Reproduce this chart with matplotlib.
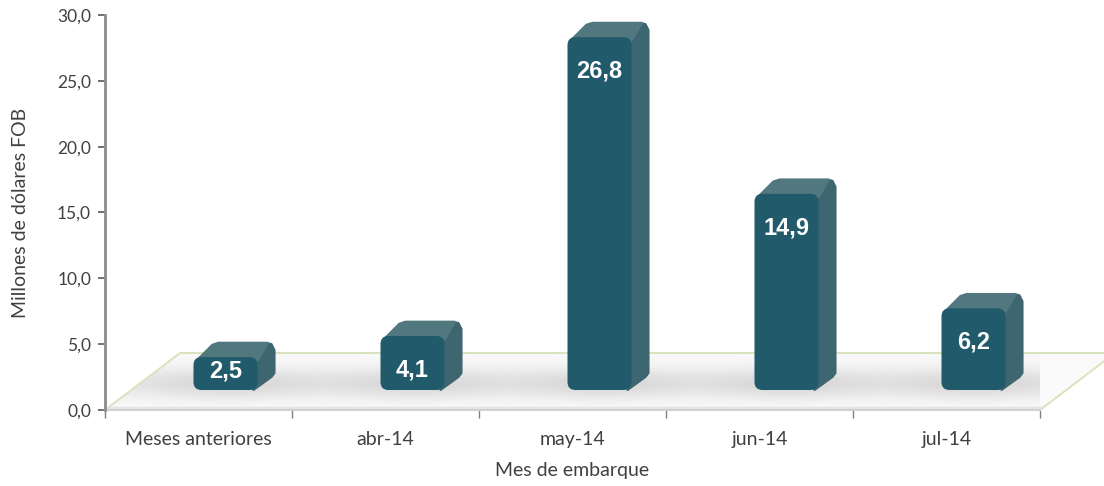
import numpy as np
import matplotlib
matplotlib.use("Agg")
import matplotlib.pyplot as plt
from matplotlib.patches import Polygon, FancyBboxPatch

categories = ["Meses anteriores", "abr-14", "may-14", "jun-14", "jul-14"]
values = [2.5, 4.1, 26.8, 14.9, 6.2]
value_labels = ["2,5", "4,1", "26,8", "14,9", "6,2"]
y_ticks = [0, 5, 10, 15, 20, 25, 30]
y_tick_labels = ["0,0", "5,0", "10,0", "15,0", "20,0", "25,0", "30,0"]

W, H = 1104, 486
fig = plt.figure(figsize=(W / 100, H / 100), dpi=100)
ax_l, ax_r, ax_b, ax_t = 105, 1040, 410, 15
ax = fig.add_axes([ax_l / W, 1 - ax_b / H, (ax_r - ax_l) / W, (ax_b - ax_t) / H])
n = len(categories)
ax.set_xlim(-0.5, n - 0.5)
ax.set_ylim(0, 30)

px_x = (ax_r - ax_l) / n      # pixels per category unit
px_y = (ax_b - ax_t) / 30.0   # pixels per y unit

def ux(p):
    return p / px_x

def uy(p):
    return p / px_y

text_font = ["Lato", "DejaVu Sans"]
txt_col = "#404040"

# floor
fdx, fdy = ux(75), uy(57)
floor = [(-0.5, 0), (n - 0.5, 0), (n - 0.5 + fdx, fdy), (-0.5 + fdx, fdy)]
floor_poly = Polygon(floor, closed=True, facecolor="#fafafa", edgecolor="none",
                     zorder=1, clip_on=False)
ax.add_patch(floor_poly)

# shadow gradient on floor
base = uy(20)
gx = np.linspace(-0.5, n - 0.5 + fdx, 600)
gy = np.linspace(0, fdy, 120)
GX, GY = np.meshgrid(gx, gy)
band = np.exp(-((GY - uy(28)) / uy(16)) ** 2)
spots = np.zeros_like(GX)
for i in range(n):
    cx = i + ux(30)
    spots += np.exp(-((GX - cx) / 0.42) ** 2) * np.exp(-((GY - uy(24)) / uy(14)) ** 2)
shade = np.clip(0.13 * band + 0.14 * spots, 0, 0.3)
rgba = np.zeros(GX.shape + (4,))
rgba[..., 0] = 0.48
rgba[..., 1] = 0.45
rgba[..., 2] = 0.45
rgba[..., 3] = shade
im = ax.imshow(rgba, extent=[gx[0], gx[-1], gy[0], gy[-1]], origin="lower",
               aspect="auto", zorder=1.5, interpolation="bilinear")
im.set_clip_path(floor_poly)

# floor edges
ax.plot([-0.5, -0.5 + fdx, n - 0.5 + fdx], [0, fdy, fdy], color="#d7e4bd",
        lw=1.4, zorder=1.6, clip_on=False, solid_capstyle="butt")
ax.plot([n - 0.5, n - 0.5 + fdx], [0, fdy], color="#d7e4bd", lw=1.4,
        zorder=1.6, clip_on=False)
ax.plot([-0.5, n - 0.5], [uy(2), uy(2)], color="#e4e4e4", lw=2.5, zorder=1.7,
        clip_on=False)
ax.plot([-0.5, n - 0.5], [0, 0], color="#d0d0d0", lw=1.4, zorder=1.7,
        clip_on=False)

# bars
front_c = "#215a6a"
side_c = "#3e6671"
top_c = "#51787f"
bw = ux(64)
off = ux(27)
ddx, ddy = ux(17), uy(14)
aspect = (1 / px_y) / (1 / px_x)
for i, (v, lab) in enumerate(zip(values, value_labels)):
    x0 = i + off - bw / 2
    x1 = x0 + bw
    top = base + v
    side = Polygon([(x1 - ux(4), base), (x1 + ddx - ux(3), base + ddy - uy(1)),
                    (x1 + ddx, base + ddy + uy(3)), (x1 + ddx, top + ddy - uy(7)),
                    (x1 + ddx - ux(3), top + ddy - uy(1)),
                    (x1 + ddx - ux(7), top + ddy), (x1 - ux(4), top)],
                   closed=True, facecolor=side_c, edgecolor=side_c, lw=1.5,
                   joinstyle="round", zorder=3)
    ax.add_patch(side)
    topf = Polygon([(x0 + ux(4), top - uy(3)), (x0 + ddx + ux(2), top + ddy - uy(2)),
                    (x0 + ddx + ux(8), top + ddy),
                    (x1 + ddx - ux(7), top + ddy), (x1, top - uy(3))],
                   closed=True, facecolor=top_c, edgecolor=top_c, lw=2,
                   joinstyle="round", zorder=3)
    ax.add_patch(topf)
    front = FancyBboxPatch((x0, base), bw, v,
                           boxstyle="round,pad=0,rounding_size=%f" % ux(8),
                           mutation_aspect=aspect, facecolor=front_c,
                           edgecolor="none", zorder=4)
    ax.add_patch(front)
    ly = max(top - uy(34), 3.0)
    ax.text(i + off, ly, lab, ha="center", va="center", color="white",
            fontsize=17, fontweight="bold",
            family=["Liberation Sans", "DejaVu Sans"], zorder=5)

# axes styling
for s in ["top", "right", "bottom"]:
    ax.spines[s].set_visible(False)
ax.spines["left"].set_color("#8c8c8c")
ax.spines["left"].set_linewidth(2)
ax.spines["left"].set_zorder(6)
ax.set_yticks(y_ticks)
ax.set_yticklabels(y_tick_labels, family=text_font, fontsize=12.5, color=txt_col)
ax.tick_params(axis="y", length=5, width=1.2, color="#595959", pad=5)
ax.set_xticks(np.arange(-0.5, n, 1.0))
ax.set_xticklabels([""] * (n + 1))
ax.set_xticks(np.arange(n), minor=True)
ax.set_xticklabels(categories, minor=True, family=text_font, fontsize=14,
                   color=txt_col)
ax.tick_params(axis="x", which="major", length=6, width=1, color="#808080",
               direction="out")
ax.tick_params(axis="x", which="minor", length=0, pad=15)
ax.set_xlabel("Mes de embarque", family=text_font, fontsize=14, color=txt_col,
              labelpad=10)
ax.set_ylabel("Millones de dólares FOB", family=text_font, fontsize=14,
              color=txt_col)
ax.yaxis.set_label_coords(-(ax_l - 29) / (ax_r - ax_l), 0.5)
ax.patch.set_alpha(0)

fig.savefig("out.png", dpi=100)
